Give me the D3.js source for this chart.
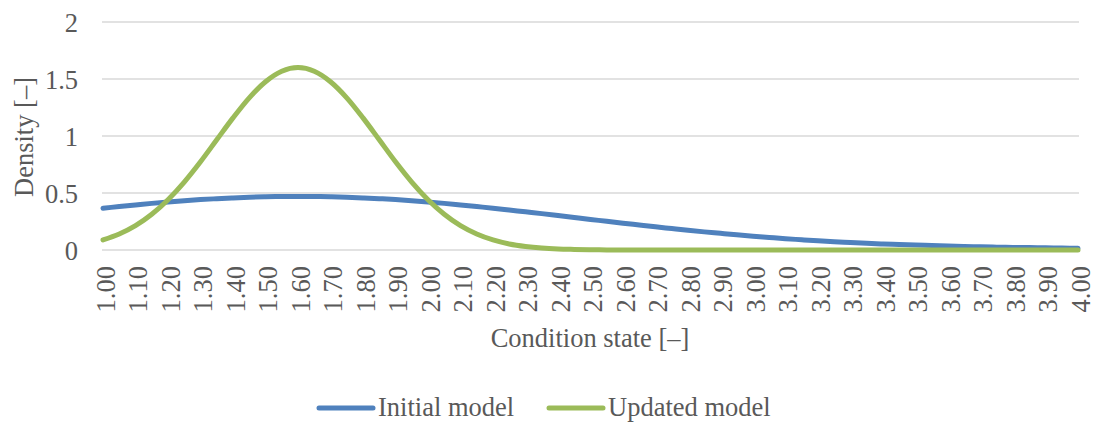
<!DOCTYPE html>
<html>
<head>
<meta charset="utf-8">
<script src="https://cdn.jsdelivr.net/npm/d3@7"></script>
<style>
  html, body { margin: 0; padding: 0; background: #ffffff; }
  svg { display: block; }
  text { font-family: "Liberation Serif", "Times New Roman", serif; fill: #595959; }
</style>
</head>
<body>
<svg id="chart" width="1093" height="422"></svg>
<script>
// Condition state grid (x values of the sampled densities)
const conditionState = [
  1.00, 1.05, 1.10, 1.15, 1.20, 1.25, 1.30, 1.35, 1.40, 1.45,
  1.50, 1.55, 1.60, 1.65, 1.70, 1.75, 1.80, 1.85, 1.90, 1.95,
  2.00, 2.05, 2.10, 2.15, 2.20, 2.25, 2.30, 2.35, 2.40, 2.45,
  2.50, 2.55, 2.60, 2.65, 2.70, 2.75, 2.80, 2.85, 2.90, 2.95,
  3.00, 3.05, 3.10, 3.15, 3.20, 3.25, 3.30, 3.35, 3.40, 3.45,
  3.50, 3.55, 3.60, 3.65, 3.70, 3.75, 3.80, 3.85, 3.90, 3.95,
  4.00
];

// Density of the initial model
const initialModel = [
  0.367, 0.381, 0.395, 0.409, 0.421, 0.432, 0.442, 0.450, 0.457, 0.463,
  0.467, 0.469, 0.470, 0.469, 0.467, 0.463, 0.457, 0.450, 0.442, 0.432,
  0.421, 0.409, 0.395, 0.381, 0.367, 0.351, 0.335, 0.319, 0.302, 0.285,
  0.268, 0.252, 0.235, 0.219, 0.203, 0.188, 0.173, 0.159, 0.146, 0.133,
  0.121, 0.110, 0.099, 0.090, 0.081, 0.073, 0.066, 0.059, 0.053, 0.048,
  0.043, 0.039, 0.035, 0.031, 0.028, 0.025, 0.023, 0.021, 0.019, 0.017,
  0.015
];

// Density of the updated model
const updatedModel = [
  0.088, 0.140, 0.213, 0.313, 0.441, 0.596, 0.774, 0.967, 1.159, 1.335,
  1.476, 1.568, 1.600, 1.568, 1.476, 1.335, 1.159, 0.967, 0.774, 0.596,
  0.441, 0.313, 0.213, 0.140, 0.088, 0.053, 0.031, 0.017, 0.009, 0.005,
  0.002, 0.001, 0.000, 0.000, 0.000, 0.000, 0.000, 0.000, 0.000, 0.000,
  0.000, 0.000, 0.000, 0.000, 0.000, 0.000, 0.000, 0.000, 0.000, 0.000,
  0.000, 0.000, 0.000, 0.000, 0.000, 0.000, 0.000, 0.000, 0.000, 0.000,
  0.000
];

const xTickLabels = [
  "1.00", "1.10", "1.20", "1.30", "1.40", "1.50", "1.60", "1.70", "1.80", "1.90",
  "2.00", "2.10", "2.20", "2.30", "2.40", "2.50", "2.60", "2.70", "2.80", "2.90",
  "3.00", "3.10", "3.20", "3.30", "3.40", "3.50", "3.60", "3.70", "3.80", "3.90",
  "4.00"
];
const yTickValues = [0, 0.5, 1, 1.5, 2];

const seriesNames = ["Initial model", "Updated model"];
const seriesColors = ["#4f81bd", "#9bbb59"];

const FONT_SIZE = 26.5;
const svg = d3.select("#chart");

const x = d3.scaleLinear().domain([1, 4]).range([103, 1078]);
const y = d3.scaleLinear().domain([0, 2]).range([250, 22]);

// Horizontal gridlines
svg.append("g")
  .selectAll("line")
  .data(yTickValues)
  .join("line")
  .attr("x1", 102)
  .attr("x2", 1079)
  .attr("y1", d => y(d))
  .attr("y2", d => y(d))
  .attr("stroke", "#d9d9d9")
  .attr("stroke-width", 1.3);

// Y axis labels
const yAxis = d3.axisLeft(y)
  .tickValues(yTickValues)
  .tickFormat(d => String(d))
  .tickSize(0)
  .tickPadding(0);
const gy = svg.append("g").attr("transform", "translate(78,0)").call(yAxis);
gy.select(".domain").remove();
gy.selectAll("text")
  .attr("font-family", "Liberation Serif, Times New Roman, serif")
  .attr("font-size", FONT_SIZE)
  .attr("fill", "#595959")
  .attr("dy", "0.34em");

// X axis labels (rotated)
const xAxis = d3.axisBottom(x)
  .tickValues(xTickLabels.map(Number))
  .tickFormat((d, i) => xTickLabels[i])
  .tickSize(0)
  .tickPadding(0);
const gx = svg.append("g").call(xAxis);
gx.select(".domain").remove();
gx.selectAll(".tick").attr("transform", d => `translate(${x(d) + 2.5},266)`);
gx.selectAll("text")
  .attr("font-family", "Liberation Serif, Times New Roman, serif")
  .attr("font-size", FONT_SIZE)
  .attr("fill", "#595959")
  .attr("y", 0)
  .attr("x", 0)
  .attr("dy", "0.34em")
  .attr("text-anchor", "end")
  .attr("transform", "rotate(-90)");

// Lines
const line = d3.line()
  .x((d, i) => x(conditionState[i]))
  .y(d => y(d))
  .curve(d3.curveMonotoneX);

[initialModel, updatedModel].forEach((series, k) => {
  svg.append("path")
    .datum(series)
    .attr("d", line)
    .attr("fill", "none")
    .attr("stroke", seriesColors[k])
    .attr("stroke-width", 5)
    .attr("stroke-linecap", "round")
    .attr("stroke-linejoin", "round");
});

// Axis titles
svg.append("text")
  .attr("x", 590)
  .attr("y", 347)
  .attr("text-anchor", "middle")
  .attr("font-size", FONT_SIZE)
  .text("Condition state [–]");

svg.append("text")
  .attr("transform", "translate(33,137) rotate(-90)")
  .attr("text-anchor", "middle")
  .attr("font-size", FONT_SIZE)
  .text("Density [–]");

// Legend
const legendItems = [
  { name: seriesNames[0], color: seriesColors[0], x0: 319 },
  { name: seriesNames[1], color: seriesColors[1], x0: 549 }
];
const lg = svg.append("g");
legendItems.forEach(it => {
  lg.append("line")
    .attr("x1", it.x0).attr("x2", it.x0 + 54)
    .attr("y1", 408).attr("y2", 408)
    .attr("stroke", it.color)
    .attr("stroke-width", 5)
    .attr("stroke-linecap", "round");
  lg.append("text")
    .attr("x", it.x0 + 59)
    .attr("y", 416)
    .attr("font-size", FONT_SIZE)
    .text(it.name);
});
</script>
</body>
</html>
